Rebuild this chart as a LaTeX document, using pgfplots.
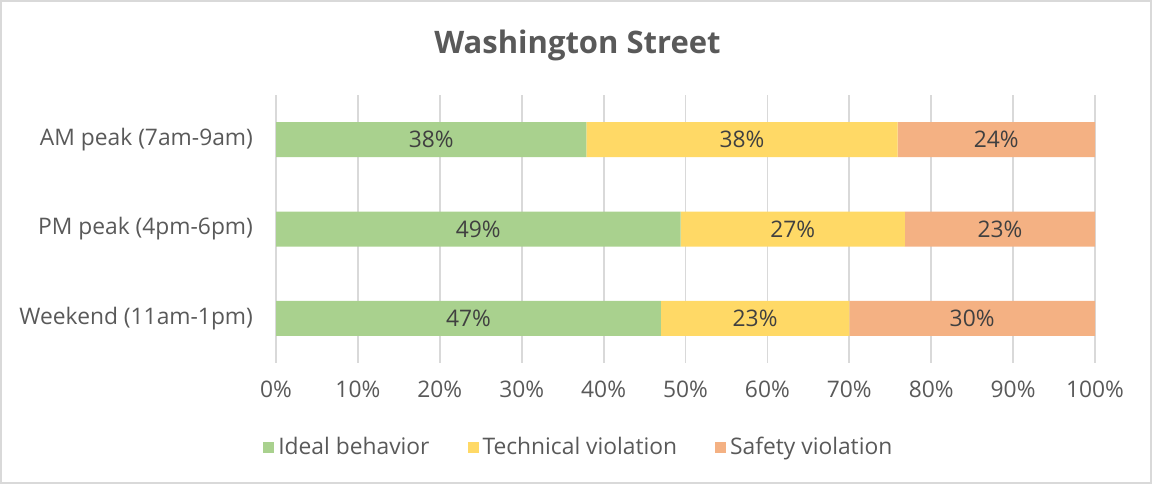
\documentclass[border=0pt]{standalone}
\usepackage{fontspec}
\setmainfont{Open Sans}
\usepackage{pgfplots}
\pgfplotsset{compat=1.18}
\usepackage{pgfplotstable}
\definecolor{cgreen}{HTML}{A9D18E}
\definecolor{cyellow}{HTML}{FFD966}
\definecolor{corange}{HTML}{F4B183}
\definecolor{txt}{HTML}{595959}
\definecolor{labc}{HTML}{404040}
\definecolor{gridc}{HTML}{D9D9D9}

\pgfplotstableread{
y ideal tech safety
0 37.9 38.0 24.1
1 49.4 27.4 23.2
2 47.0 23.0 30.0
}\datatable

\pgfplotstableread{
x y lab
18.95 0 38
56.9 0 38
87.95 0 24
24.7 1 49
63.1 1 27
88.4 1 23
23.5 2 47
58.5 2 23
85.0 2 30
}\labtable

\pgfplotsset{base/.style={width=409.5pt,height=134pt,scale only axis,
  xmin=0,xmax=100,ymin=-0.5,ymax=2.5,y dir=reverse,
  at={(138pt,60.5pt)},anchor=south west}}

\begin{document}
\begin{tikzpicture}
\useasboundingbox (0,0) rectangle (576pt,242pt);
\draw[gridc,line width=0.75pt] (0.4pt,0.4pt) rectangle (575.6pt,241.6pt);
\node[font=\fontsize{15.5}{18}\selectfont\bfseries,text=txt] at (288.75pt,219.5pt) {Washington Street};
\begin{axis}[base,
  xbar stacked, bar width=17.5pt,
  xtick={0,10,...,100},
  xticklabel={\pgfmathprintnumber{\tick}\%},
  ytick={0,1,2},
  yticklabels={AM peak (7am-9am),PM peak (4pm-6pm),Weekend (11am-1pm)},
  xmajorgrids, grid style={gridc,line width=0.9pt},
  axis line style={draw=none},
  major tick length=0pt,
  tick label style={font=\fontsize{11.4}{13}\selectfont,text=txt},
  /pgf/number format/assume math mode=true,
  xticklabel style={yshift=-5.5pt},
  yticklabel style={anchor=east,xshift=-8pt},
  legend style={at={(0.371,-0.315)},anchor=center,draw=none,fill=none,
    legend columns=3,font=\fontsize{11.4}{13}\selectfont,text=txt,
    /tikz/every even column/.append style={column sep=17pt}},
  legend image code/.code={\draw[#1,draw=none] (0pt,-2.75pt) rectangle (5.5pt,2.75pt);},
]
\addplot[fill=cgreen,draw=none] table[x=ideal,y=y]{\datatable};
\addplot[fill=cyellow,draw=none] table[x=tech,y=y]{\datatable};
\addplot[fill=corange,draw=none] table[x=safety,y=y]{\datatable};
\legend{Ideal behavior,Technical violation,Safety violation}
\end{axis}
\begin{axis}[base,hide axis]
\addplot[only marks,mark=none,draw=none,point meta=explicit symbolic,
  nodes near coords={\pgfplotspointmeta\%},
  every node near coord/.append style={anchor=center,font=\fontsize{11.4}{13}\selectfont,text=labc}]
  table[x=x,y=y,meta=lab]{\labtable};
\end{axis}
\end{tikzpicture}
\end{document}
